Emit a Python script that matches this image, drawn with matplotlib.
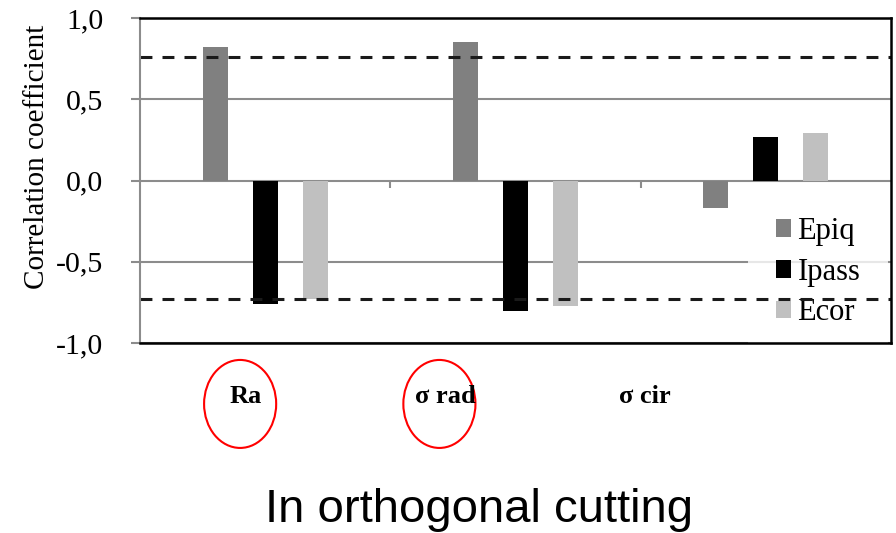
import matplotlib
import matplotlib.pyplot as plt
import numpy as np
from matplotlib.patches import Ellipse, Patch

matplotlib.use("Agg")

# data
categories = ["Ra", "\u03c3 rad", "\u03c3 cir"]
series = ["Epiq", "Ipass", "Ecor"]
epiq = [0.82, 0.855, -0.17]
ipass = [-0.757, -0.806, 0.266]
ecor = [-0.73, -0.775, 0.295]
thresholds = [0.763, -0.732]
yticks = [-1.0, -0.5, 0.0, 0.5, 1.0]
ytick_labels = ["-1,0", "-0,5", "0,0", "0,5", "1,0"]
circled = ["Ra", "\u03c3 rad"]

colors = ["#808080", "#000000", "#c0c0c0"]
offsets = [-0.2, 0.0, 0.2]
label_x = [-0.076, 0.72, 1.516]   # where the category captions sit
serif = "Liberation Serif"

fig = plt.figure(figsize=(8.96, 5.33), dpi=100)
ax = fig.add_axes([140 / 896, 190 / 533, 751 / 896, 325 / 533])

x = np.arange(len(categories))
for vals, c, off in zip([epiq, ipass, ecor], colors, offsets):
    ax.bar(x + off, vals, width=0.1, color=c, zorder=3)

# threshold lines drawn over the legend box
for t in thresholds:
    ax.axhline(t, color="#1a1a1a", lw=2.2, linestyle=(0, (3.9, 3.3)), zorder=6, clip_on=False)

# small separators between categories on the zero line
ax.vlines([0.5, 1.5], -0.045, 0, color="#8c8c8c", lw=1.5, zorder=2)

ax.set_xlim(-0.5, 2.5)
ax.set_ylim(-1, 1)
ax.set_xticks([])
ax.set_yticks(yticks)
ax.set_yticklabels(ytick_labels, family=serif, fontsize=21.5)
ax.tick_params(axis="y", length=6.5, width=1.5, color="#8c8c8c", pad=20)
ax.yaxis.grid(True, color="#8c8c8c", lw=1.5)
ax.set_axisbelow(True)

for s in ["top", "right", "bottom"]:
    ax.spines[s].set_color("black")
    ax.spines[s].set_linewidth(1.8)
ax.spines["left"].set_color("#8c8c8c")
ax.spines["left"].set_linewidth(1.5)
for s in ax.spines.values():
    s.set_zorder(7)

ax.set_ylabel("Correlation coefficient", family=serif, fontsize=21)
ax.yaxis.set_label_coords(-0.1205, 0.572)

handles = [Patch(facecolor=c, edgecolor="none") for c in colors]
leg = ax.legend(handles, series, loc="center left", bbox_to_anchor=(0.8096, 0.218),
                borderaxespad=0, borderpad=0.9, frameon=True, fancybox=False,
                handlelength=0.5, handleheight=0.5, handletextpad=0.22,
                labelspacing=0.38, prop={"family": serif, "size": 22})
leg.get_frame().set_facecolor("white")
leg.get_frame().set_edgecolor("none")
leg.set_zorder(5)

# category captions below the axis
trans = ax.get_xaxis_transform()
for lx, name in zip(label_x, categories):
    ax.text(lx, -0.165, name, transform=trans, ha="center", va="center",
            family=serif, fontweight="bold", fontsize=19)

# red ellipses around the circled captions
for name in circled:
    i = categories.index(name)
    cx = label_x[i] - 0.024
    ax.add_patch(Ellipse((cx, -1.375), 0.288, 0.5415, fill=False,
                         edgecolor="red", lw=1.5, clip_on=False))

fig.text(479 / 896, 11 / 533, "In orthogonal cutting", ha="center", va="baseline",
         family="Liberation Sans", fontsize=34)

fig.savefig("out.png", dpi=100)
